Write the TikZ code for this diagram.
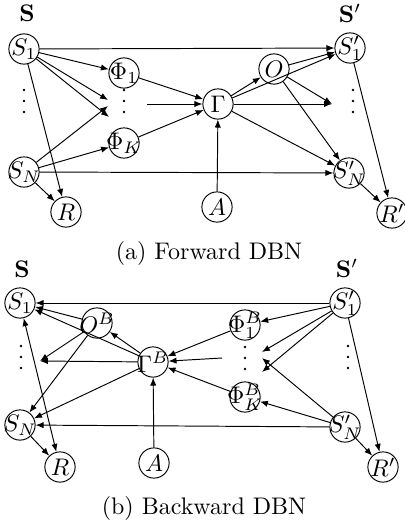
\documentclass[tikz,border=0pt]{standalone}
\usetikzlibrary{arrows.meta}
% three stacked dots centred on (#1,#2)
\newcommand\dotcol[2]{%
  \fill (#1,#2-11) circle[radius=0.6pt] (#1,#2) circle[radius=0.6pt] (#1,#2+11) circle[radius=0.6pt];}
\begin{document}
\begin{tikzpicture}[x=0.41667pt,y=-0.41667pt,
  var/.style={circle,draw,minimum size=12.6pt,inner sep=0pt,label={[inner sep=0pt]center:#1}},
  arr/.style={-{Latex[length=3.3pt,width=2.6pt]}},
  both/.style={{Latex[length=3.3pt,width=2.6pt]}-{Latex[length=3.3pt,width=2.6pt]}},
  setlbl/.style={inner sep=0pt}]
\useasboundingbox (0,0) rectangle (405,524);

% ---------------- forward network ----------------
\node[setlbl] (f-S)  at (27,13)  {$\mathbf{S}$};
\node[setlbl] (f-Sp) at (350,13) {$\mathbf{S}'$};

\node[var=$S_1$]     (f-s1)  at (24,49)   {};
\node[var=$S_N$]     (f-sn)  at (24,172)  {};
\node[var=$R$]       (f-r)   at (66,212)  {};
\node[var=$\Phi_1$]  (f-p1)  at (124,73)  {};
\node[var=$\Phi_K$]  (f-pk)  at (124,143) {};
\node[var=$\Gamma$]  (f-g)   at (218,104) {};
\node[var=$O$]       (f-o)   at (274,69)  {};
\node[var=$A$]       (f-a)   at (217,207) {};
\node[var=$S'_1$]    (f-s1p) at (350,48)  {};
\node[var=$S'_N$]    (f-snp) at (349,173) {};
\node[var=$R'$]      (f-rp)  at (392,213) {};

\dotcol{24}{101}
\dotcol{124}{101}
\dotcol{353}{101}

\coordinate (f-c1) at (108,100);
\coordinate (f-c2) at (109,117);
\coordinate (f-c3) at (108,106);
\coordinate (f-c4) at (147,104);
\coordinate (f-c5) at (332,104);

\draw[arr] (f-s1) -- (f-s1p);
\draw[arr] (f-s1) -- (f-p1);
\draw[arr] (f-s1) -- (f-c1);
\draw[arr] (f-s1) -- (f-c2);
\draw[arr] (f-s1) -- (f-r);
\draw[arr] (f-sn) -- (f-c3);
\draw[arr] (f-sn) -- (f-pk);
\draw[arr] (f-sn) -- (f-r);
\draw[arr] (f-sn) -- (f-snp);
\draw[arr] (f-p1) -- (f-g);
\draw[arr] (f-c4) -- (f-g);
\draw[arr] (f-pk) -- (f-g);
\draw[arr] (f-a)  -- (f-g);
\draw[arr] (f-g)  -- (f-o);
\draw[arr] (f-g)  -- (f-s1p);
\draw[arr] (f-g)  -- (f-c5);
\draw[arr] (f-g)  -- (f-snp);
\draw[arr] (f-o)  -- (f-s1p);
\draw[arr] (f-o)  -- (f-c5);
\draw[arr] (f-o)  -- (f-snp);
\draw[arr] (f-s1p) -- (f-rp);
\draw[arr] (f-snp) -- (f-rp);

\node[anchor=base] (f-cap) at (209,259) {(a) Forward DBN};

% ---------------- backward network ----------------
\node[setlbl] (b-S)  at (22,269)  {$\mathbf{S}$};
\node[setlbl] (b-Sp) at (347,268) {$\mathbf{S}'$};

\node[var=$S_1$]       (b-s1)  at (20,303)  {};
\node[var=$S_N$]       (b-sn)  at (20,425)  {};
\node[var=$R$]         (b-r)   at (60,467)  {};
\node[var=$O^B$]       (b-o)   at (97,323)  {};
\node[var=$\Gamma^B$]  (b-g)   at (153,362) {};
\node[var=$A$]         (b-a)   at (154,463) {};
\node[var=$\Phi^B_1$]  (b-p1)  at (245,325) {};
\node[var=$\Phi^B_K$]  (b-pk)  at (245,397) {};
\node[var=$S'_1$]      (b-s1p) at (345,303) {};
\node[var=$S'_N$]      (b-snp) at (345,427) {};
\node[var=$R'$]        (b-rp)  at (383,467) {};

\dotcol{21}{357}
\dotcol{245}{358}
\dotcol{348}{357}

\coordinate (b-d1) at (262,352);
\coordinate (b-d2) at (262,372);
\coordinate (b-d3) at (262,358);
\coordinate (b-d0) at (222,358);
\coordinate (b-e)  at (40,361);

\draw[arr] (b-s1p) -- (b-s1);
\draw[arr] (b-snp) -- (b-sn);
\draw[arr] (b-s1p) -- (b-p1);
\draw[arr] (b-s1p) -- (b-d1);
\draw[arr] (b-s1p) -- (b-d2);
\draw[arr] (b-snp) -- (b-d3);
\draw[arr] (b-snp) -- (b-pk);
\draw[arr] (b-p1) -- (b-g);
\draw[arr] (b-d0) -- (b-g);
\draw[arr] (b-pk) -- (b-g);
\draw[arr] (b-a)  -- (b-g);
\draw[arr] (b-g)  -- (b-o);
\draw[arr] (b-g)  -- (b-s1);
\draw[arr] (b-g)  -- (b-e);
\draw[arr] (b-g)  -- (b-sn);
\draw[arr] (b-o)  -- (b-s1);
\draw[arr] (b-o)  -- (b-e);
\draw[arr] (b-o)  -- (b-sn);
\draw[both] (b-s1) -- (b-r);
\draw[arr] (b-sn) -- (b-r);
\draw[arr] (b-s1p) -- (b-rp);
\draw[arr] (b-snp) -- (b-rp);

\node[anchor=base] (b-cap) at (204,514) {(b) Backward DBN};
\end{tikzpicture}
\end{document}
